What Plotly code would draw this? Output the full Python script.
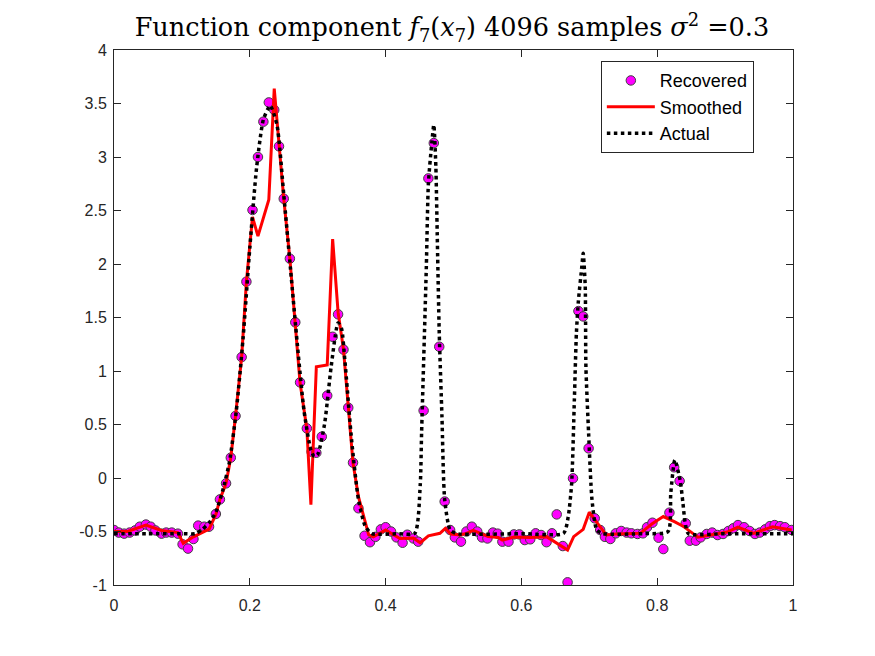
import plotly.graph_objects as go

# recovered samples
rec_x = [0.000, 0.007, 0.015, 0.023, 0.031, 0.038, 0.047, 0.054, 0.061, 0.070,
         0.077, 0.085, 0.094, 0.101, 0.109, 0.117, 0.124, 0.133, 0.140, 0.150,
         0.156, 0.165, 0.172, 0.179, 0.188, 0.195, 0.204, 0.212, 0.220, 0.228,
         0.236, 0.243, 0.250, 0.259, 0.267, 0.274, 0.284, 0.291, 0.298, 0.306,
         0.314, 0.322, 0.330, 0.338, 0.345, 0.352, 0.360, 0.369, 0.377, 0.385,
         0.393, 0.400, 0.408, 0.416, 0.425, 0.432, 0.441, 0.448, 0.456, 0.463,
         0.471, 0.479, 0.487, 0.495, 0.502, 0.511, 0.519, 0.527, 0.535, 0.542,
         0.550, 0.558, 0.565, 0.572, 0.581, 0.589, 0.597, 0.605, 0.613, 0.621,
         0.629, 0.637, 0.645, 0.652, 0.661, 0.668, 0.676, 0.684, 0.691, 0.699,
         0.708, 0.716, 0.723, 0.731, 0.739, 0.747, 0.755, 0.762, 0.771, 0.779,
         0.785, 0.793, 0.802, 0.809, 0.818, 0.825, 0.833, 0.842, 0.848, 0.857,
         0.864, 0.873, 0.881, 0.889, 0.897, 0.905, 0.912, 0.919, 0.928, 0.936,
         0.944, 0.951, 0.959, 0.966, 0.973, 0.981, 0.988, 0.998]
rec_y = [-0.486, -0.51, -0.52, -0.51, -0.49, -0.455, -0.435, -0.455, -0.49, -0.52,
         -0.51, -0.51, -0.52, -0.62, -0.66, -0.57, -0.445, -0.455, -0.455, -0.336,
         -0.20, -0.05, 0.19, 0.58, 1.13, 1.835, 2.505, 3.00, 3.33, 3.51,
         3.44, 3.10, 2.61, 2.05, 1.455, 0.894, 0.464, 0.246, 0.236, 0.386,
         0.77, 1.32, 1.53, 1.20, 0.657, 0.143, -0.283, -0.54, -0.60, -0.55,
         -0.48, -0.46, -0.50, -0.555, -0.605, -0.53, -0.565, -0.595, 0.63, 2.80,
         3.13, 1.227, -0.22, -0.486, -0.555, -0.595, -0.50, -0.455, -0.50, -0.555,
         -0.565, -0.51, -0.52, -0.595, -0.595, -0.527, -0.527, -0.58, -0.573, -0.517,
         -0.533, -0.60, -0.517, -0.34, -0.636, -0.975, -0.003, 1.56, 1.51, 0.277,
         -0.377, -0.486, -0.55, -0.57, -0.517, -0.495, -0.51, -0.517, -0.523, -0.517,
         -0.46, -0.418, -0.558, -0.664, -0.324, 0.10, -0.028, -0.424, -0.586, -0.586,
         -0.555, -0.523, -0.51, -0.533, -0.523, -0.495, -0.47, -0.44, -0.46, -0.495,
         -0.523, -0.51, -0.48, -0.45, -0.44, -0.45, -0.46, -0.486]

# smoothed estimate
sm_x = [0.000, 0.020, 0.047, 0.070, 0.094, 0.102, 0.117, 0.140, 0.150, 0.156,
        0.165, 0.172, 0.179, 0.188, 0.195, 0.204, 0.212, 0.228, 0.236, 0.243,
        0.250, 0.259, 0.267, 0.274, 0.284, 0.290, 0.298, 0.314, 0.322, 0.330,
        0.338, 0.345, 0.352, 0.360, 0.375, 0.382, 0.400, 0.421, 0.441, 0.451,
        0.463, 0.480, 0.488, 0.496, 0.510, 0.519, 0.529, 0.537, 0.551, 0.566,
        0.572, 0.589, 0.613, 0.637, 0.668, 0.677, 0.691, 0.700, 0.708, 0.716,
        0.725, 0.739, 0.758, 0.775, 0.792, 0.809, 0.826, 0.838, 0.860, 0.881,
        0.903, 0.919, 0.942, 0.970, 0.998]
sm_y = [-0.50, -0.50, -0.44, -0.49, -0.51, -0.61, -0.55, -0.477, -0.34, -0.20,
        -0.05, 0.19, 0.58, 1.13, 1.835, 2.44, 2.26, 2.60, 3.64, 3.10,
        2.61, 2.05, 1.455, 0.89, 0.46, -0.25, 1.04, 1.056, 2.233, 1.55,
        1.20, 0.657, 0.14, -0.175, -0.53, -0.55, -0.486, -0.565, -0.56, -0.605,
        -0.54, -0.517, -0.47, -0.523, -0.533, -0.517, -0.49, -0.51, -0.548, -0.555,
        -0.58, -0.552, -0.555, -0.548, -0.673, -0.548, -0.48, -0.32, -0.39, -0.455,
        -0.533, -0.523, -0.517, -0.517, -0.43, -0.36, -0.41, -0.45, -0.554, -0.533,
        -0.505, -0.46, -0.517, -0.455, -0.486]

# actual component
act_x = [0.000, 0.050, 0.100, 0.120, 0.130, 0.140, 0.150, 0.160, 0.170, 0.180,
         0.190, 0.200, 0.210, 0.220, 0.230, 0.240, 0.250, 0.260, 0.270, 0.280,
         0.290, 0.295, 0.300, 0.310, 0.320, 0.330, 0.335, 0.340, 0.350, 0.360,
         0.370, 0.380, 0.420, 0.443, 0.451, 0.453, 0.460, 0.463, 0.468, 0.471,
         0.474, 0.476, 0.479, 0.483, 0.487, 0.495, 0.505, 0.600, 0.662, 0.669,
         0.674, 0.678, 0.681, 0.684, 0.689, 0.691, 0.694, 0.695, 0.699, 0.704,
         0.711, 0.720, 0.780, 0.816, 0.820, 0.826, 0.834, 0.838, 0.841, 0.846,
         0.900, 1.000]
act_y = [-0.52, -0.52, -0.52, -0.52, -0.48, -0.42, -0.32, -0.12, 0.15, 0.62,
         1.30, 2.15, 2.90, 3.35, 3.48, 3.30, 2.65, 1.95, 1.25, 0.62,
         0.26, 0.20, 0.22, 0.50, 1.05, 1.45, 1.40, 1.10, 0.35, -0.20,
         -0.45, -0.52, -0.52, -0.517, -0.065, 0.42, 1.975, 2.75, 3.13, 3.30,
         2.91, 2.29, 1.355, 0.573, -0.20, -0.486, -0.52, -0.52, -0.517, -0.36,
         -0.05, 0.73, 1.355, 1.66, 1.975, 2.10, 1.79, 1.04, 0.417, -0.206,
         -0.486, -0.52, -0.52, -0.50, -0.14, 0.168, -0.03, -0.24, -0.41, -0.52,
         -0.52, -0.52]

x_ticks = [0, 0.2, 0.4, 0.6, 0.8, 1]
y_ticks = [-1, -0.5, 0, 0.5, 1, 1.5, 2, 2.5, 3, 3.5, 4]

fig = go.Figure()
fig.add_trace(go.Scatter(
    x=rec_x, y=rec_y, mode="markers", name="Recovered",
    marker=dict(color="#ff00ff", size=9.5, line=dict(color="#404040", width=1))))
fig.add_trace(go.Scatter(
    x=sm_x, y=sm_y, mode="lines", name="Smoothed",
    line=dict(color="#ff0000", width=3)))
fig.add_trace(go.Scatter(
    x=act_x, y=act_y, mode="lines", name="Actual",
    line=dict(color="#000000", width=3.5, dash="dot", shape="spline", smoothing=0.6)))

axis_style = dict(
    showline=True, linecolor="#262626", linewidth=1, mirror="ticks",
    ticks="inside", ticklen=7, tickcolor="#262626", showgrid=False, zeroline=False,
    tickfont=dict(family="Liberation Sans, Arial", size=16, color="#262626"))

# page body adds 8px, so the figure is 8px smaller than the window
fig.update_layout(
    width=867, height=648,
    margin=dict(l=106, r=82, t=42, b=71),
    paper_bgcolor="white", plot_bgcolor="white",
    title=dict(
        text="Function component <i>f</i><sub>7</sub>(<i>x</i><sub>7</sub>) 4096 samples <i>σ</i><sup>2</sup> =0.3",
        x=0.512, xanchor="center", y=0.97, yanchor="middle",
        font=dict(family="DejaVu Serif, serif", size=25.5, color="black")),
    xaxis=dict(range=[0, 1], tickvals=x_ticks, ticktext=[str(v) for v in x_ticks],
               ticklabelstandoff=6, **axis_style),
    yaxis=dict(range=[-1, 4], tickvals=y_ticks, ticktext=[str(v) for v in y_ticks],
               ticklabelstandoff=3, **axis_style),
    legend=dict(
        x=0.717, y=0.979, xanchor="left", yanchor="top",
        bordercolor="#262626", borderwidth=1, bgcolor="white",
        font=dict(family="Liberation Sans, Arial", size=18, color="black"),
        tracegroupgap=0, itemwidth=48),
    showlegend=True,
)

fig.write_html("out.html")
